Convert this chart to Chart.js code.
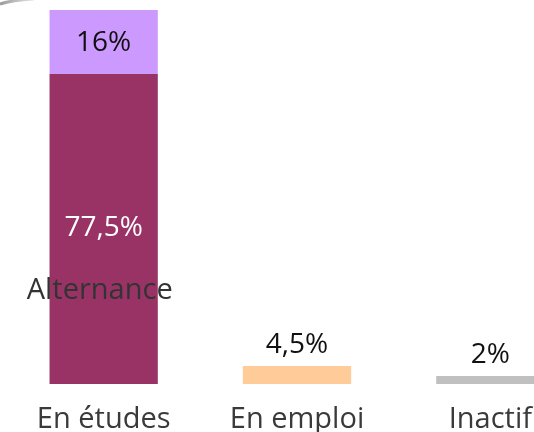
<!DOCTYPE html>
<html>
<head>
<meta charset="utf-8">
<script src="https://cdn.jsdelivr.net/npm/chart.js@4"></script>
<style>
html,body{margin:0;padding:0;background:#fff;overflow:hidden;width:534px;height:432px;}
#wrap{position:absolute;left:0;top:0;width:594px;height:432px;}
</style>
</head>
<body>
<div id="wrap"><canvas id="c" width="594" height="432"></canvas></div>
<script>
const categories = ['En études', 'En emploi', 'Inactif'];
const mainValues = [77.5, 4.5, 2];
const alternanceValues = [16, 0, 0];
const mainColors = ['#993366', '#FFCC99', '#C0C0C0'];
const alternanceColor = '#CC99FF';
const alternanceLabel = 'Alternance';

const FONT = '"Open Sans", sans-serif';
const fmt = v => String(v).replace('.', ',') + '%';

const decoPlugin = {
  id: 'deco',
  beforeDraw(chart) {
    const ctx = chart.ctx;
    ctx.save();
    const g = ctx.createLinearGradient(0, 0, 34, 0);
    g.addColorStop(0, '#9a9a9a');
    g.addColorStop(1, '#e6e6e6');
    ctx.strokeStyle = g;
    ctx.lineWidth = 3;
    ctx.beginPath();
    ctx.moveTo(0, 4);
    ctx.quadraticCurveTo(12, 0, 34, -1);
    ctx.stroke();
    ctx.restore();
  }
};

const labelPlugin = {
  id: 'labels',
  afterDatasetsDraw(chart) {
    const ctx = chart.ctx;
    const x = chart.scales.x, y = chart.scales.y;
    ctx.save();
    ctx.textAlign = 'center';
    ctx.textBaseline = 'middle';
    const vFont = '400 28px ' + FONT;
    ctx.font = vFont;
    categories.forEach((c, i) => {
      const cx = x.getPixelForValue(i);
      const m = mainValues[i], a = alternanceValues[i];
      if (a > 0) {
        ctx.fillStyle = '#ffffff';
        ctx.fillText(fmt(m), cx, (y.getPixelForValue(0) + y.getPixelForValue(m)) / 2 - 1);
        ctx.fillStyle = '#111111';
        ctx.fillText(fmt(a), cx, (y.getPixelForValue(m) + y.getPixelForValue(m + a)) / 2 + 1);
        ctx.font = '400 29px ' + FONT;
        ctx.fillStyle = '#333333';
        ctx.fillText(alternanceLabel, cx - 4, y.getPixelForValue(m * 0.3));
        ctx.font = vFont;
      } else {
        ctx.fillStyle = '#111111';
        ctx.fillText(fmt(m), cx, y.getPixelForValue(m) - 21);
      }
    });
    ctx.restore();
  }
};

new Chart(document.getElementById('c'), {
  type: 'bar',
  data: {
    labels: categories,
    datasets: [
      { label: 'main', data: mainValues, backgroundColor: mainColors, borderWidth: 0 },
      { label: alternanceLabel, data: alternanceValues, backgroundColor: alternanceColor, borderWidth: 0 }
    ]
  },
  options: {
    responsive: false,
    animation: false,
    devicePixelRatio: 1,
    layout: { padding: { left: 7, right: 7, top: 0, bottom: 0 } },
    datasets: { bar: { barPercentage: 0.56, categoryPercentage: 1 } },
    plugins: { legend: { display: false }, tooltip: { enabled: false } },
    scales: {
      x: {
        stacked: true,
        grid: { display: false, drawTicks: false },
        border: { display: false },
        ticks: { color: '#3a3a3a', font: { family: FONT, size: 29, weight: 400 }, padding: 18, maxRotation: 0 },
        afterFit(scale) { scale.height = 48; }
      },
      y: {
        stacked: true,
        display: false,
        min: 0,
        max: 96
      }
    }
  },
  plugins: [decoPlugin, labelPlugin]
});
</script>
</body>
</html>
